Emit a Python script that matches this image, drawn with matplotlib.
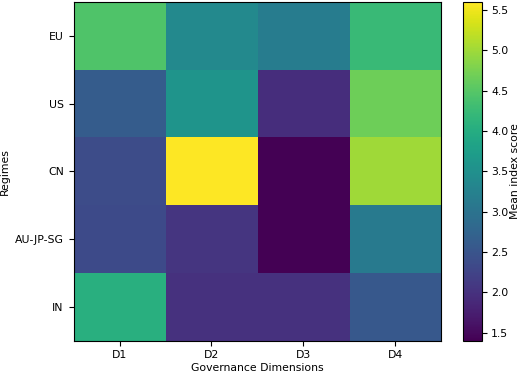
import numpy as np
import matplotlib
matplotlib.use("Agg")
import matplotlib.pyplot as plt

# regimes (rows) and governance dimensions (columns)
regimes = ["EU", "US", "CN", "AU-JP-SG", "IN"]
dimensions = ["D1", "D2", "D3", "D4"]

eu_scores = [4.45, 3.37, 3.17, 4.25]
us_scores = [2.62, 3.58, 1.95, 4.68]
cn_scores = [2.38, 5.60, 1.40, 5.00]
au_jp_sg_scores = [2.35, 2.05, 1.40, 3.12]
in_scores = [4.05, 2.00, 2.00, 2.55]

scores = np.array([eu_scores, us_scores, cn_scores, au_jp_sg_scores, in_scores])

fig = plt.figure(figsize=(5.2, 3.74), dpi=100)
ax = fig.add_axes([0.1415, 0.089, 0.707, 0.906])
cax = fig.add_axes([0.891, 0.089, 0.035, 0.906])

im = ax.imshow(scores, cmap="viridis", aspect="auto")
ax.set_xticks(np.arange(len(dimensions)))
ax.set_xticklabels(dimensions)
ax.set_yticks(np.arange(len(regimes)))
ax.set_yticklabels(regimes)
ax.tick_params(labelsize=7.8)
ax.set_xlabel("Governance Dimensions", fontsize=7.8, labelpad=2)
ax.set_ylabel("Regimes", fontsize=7.8)

cb = fig.colorbar(im, cax=cax)
cb.set_label("Mean index score", fontsize=7.8, labelpad=1)
cb.ax.tick_params(labelsize=7.8)

fig.savefig("out.png", dpi=100)
